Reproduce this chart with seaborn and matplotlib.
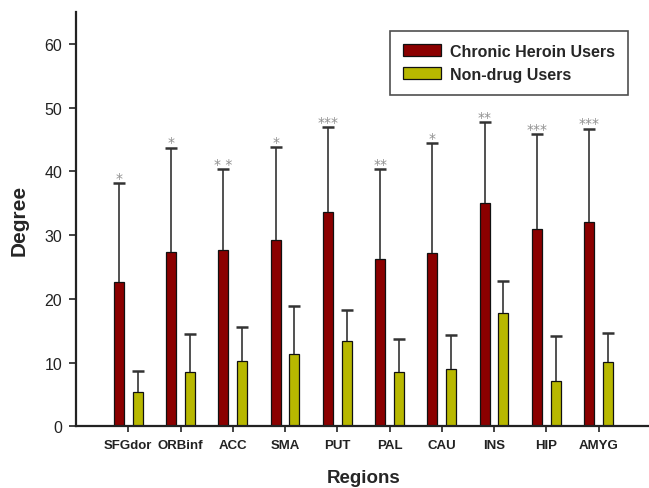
import matplotlib
matplotlib.use("Agg")
import matplotlib.pyplot as plt
import seaborn as sns
import pandas as pd
import numpy as np

# datos
regiones = ["SFGdor", "ORBinf", "ACC", "SMA", "PUT", "PAL", "CAU", "INS", "HIP", "AMYG"]
grupos = ["Chronic Heroin Users", "Non-drug Users"]
media_heroina = [22.7, 27.4, 27.7, 29.3, 33.7, 26.3, 27.2, 35.1, 30.9, 32.1]
sd_heroina = [15.4, 16.3, 12.7, 14.5, 13.2, 14.1, 17.2, 12.6, 14.9, 14.6]
media_control = [5.4, 8.5, 10.3, 11.3, 13.4, 8.5, 9.0, 17.7, 7.1, 10.1]
sd_control = [3.3, 6.0, 5.3, 7.6, 4.9, 5.2, 5.3, 5.1, 7.0, 4.6]
signif = ["*", "*", "* *", "*", "***", "**", "*", "**", "***", "***"]

colores = ["#8b0000", "#b8b800"]

df = pd.DataFrame({
    "Region": regiones * 2,
    "Grupo": [grupos[0]] * len(regiones) + [grupos[1]] * len(regiones),
    "Degree": media_heroina + media_control,
})

sns.set_style("ticks")
plt.rcParams["font.family"] = ["Liberation Sans", "DejaVu Sans"]

fig = plt.figure(figsize=(6.49, 4.89), dpi=100)
ax = fig.add_axes([76 / 649, 61.7 / 489, 574.75 / 649, 414.3 / 489])

sns.barplot(data=df, x="Region", y="Degree", hue="Grupo", palette=colores,
            saturation=1, width=0.72, gap=0.47, edgecolor="#111111", linewidth=0.9,
            errorbar=None, ax=ax)

# barras de error (solo hacia arriba)
sds = [sd_heroina, sd_control]
barras = list(ax.containers)
for k, cont in enumerate(barras):
    xs = [p.get_x() + p.get_width() / 2 for p in cont.patches]
    ys = [p.get_height() for p in cont.patches]
    eb = ax.errorbar(xs, ys, yerr=[np.zeros(len(ys)), sds[k]], fmt="none",
                     ecolor="#333333", elinewidth=1.2, capsize=4.4, capthick=1.8, zorder=1)
    eb[1][0].set_visible(False)
    if k == 0:
        for x, y, s, txt in zip(xs, ys, sds[k], signif):
            ax.text(x, y + s + 0.2, txt, ha="center", va="baseline",
                    fontsize=10, color="#909090", family="DejaVu Sans")

ax.set_xlim(-1, 10)
ax.set_ylim(0, 65)
ax.set_yticks(range(0, 61, 10))
ax.tick_params(axis="y", labelsize=11.5, length=5, width=1.2, pad=5, colors="#222222")
ax.tick_params(axis="x", labelsize=9.5, length=4, width=1.2, pad=5, colors="#222222")
for lab in ax.get_xticklabels():
    lab.set_fontweight("bold")
sns.despine(ax=ax)
ax.spines["left"].set_linewidth(1.6)
ax.spines["bottom"].set_linewidth(1.6)
ax.spines["left"].set_color("#222222")
ax.spines["bottom"].set_color("#222222")

ax.set_xlabel("Regions", fontsize=13.5, fontweight="bold", labelpad=13)
ax.set_ylabel("Degree", fontsize=15, fontweight="bold", labelpad=11)

leg = ax.legend(title=None, loc="upper right", bbox_to_anchor=(0.9604, 0.954),
                fontsize=11.5, frameon=True, fancybox=False, handlelength=2.4,
                handleheight=0.75, borderpad=0.8, labelspacing=0.5, handletextpad=0.55,
                borderaxespad=0)
leg.get_frame().set_edgecolor("#222222")
leg.get_frame().set_linewidth(1.2)
for t in leg.get_texts():
    t.set_fontweight("bold")

fig.savefig("out.png", dpi=100)
